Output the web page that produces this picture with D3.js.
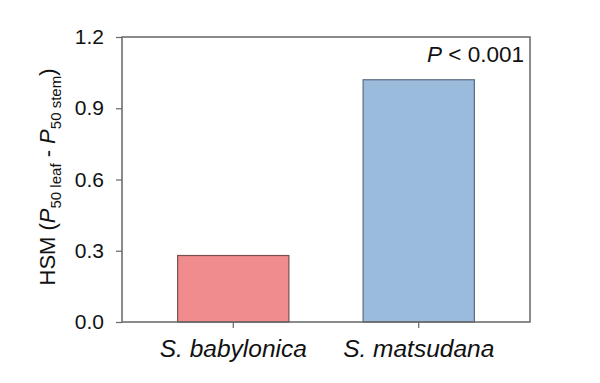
<!DOCTYPE html>
<html><head><meta charset="utf-8">
<script src="https://cdn.jsdelivr.net/npm/d3@7"></script>
<style>body{margin:0;background:#fff}svg{display:block}</style>
</head><body>
<svg id="c" width="600" height="383"></svg>
<script>
const categories = ["S. babylonica", "S. matsudana"];
const values = [0.28, 1.02];
const colors = ["#F08C8E", "#9BBBDC"];
const strokes = ["#7a4f50", "#5a6c80"];
const yTicks = [0.0, 0.3, 0.6, 0.9, 1.2];

const svg = d3.select("#c");
const m = {l:122, r:600-530, t:37, b:383-322};
const W = 600, H = 383;
const x = d3.scaleBand().domain(categories).range([m.l, W-m.r]).paddingInner(0.4).paddingOuter(0.3);
const y = d3.scaleLinear().domain([0, 1.2]).range([H-m.b, m.t]);
const axisColor = "#666";
const font = "Liberation Sans, Arial, sans-serif";

// bars
svg.selectAll("rect.bar").data(categories).join("rect")
  .attr("x", d => x(d)).attr("width", x.bandwidth())
  .attr("y", (d,i) => y(values[i])).attr("height", (d,i) => y(0) - y(values[i]))
  .attr("fill", (d,i) => colors[i]).attr("stroke", (d,i) => strokes[i]).attr("stroke-width", 1.2);

// frame
svg.append("rect").attr("x", m.l).attr("y", m.t).attr("width", W-m.r-m.l).attr("height", H-m.b-m.t)
  .attr("fill", "none").attr("stroke", axisColor).attr("stroke-width", 1.5);

// y axis
const ya = svg.append("g").attr("transform", `translate(${m.l},0)`)
  .call(d3.axisLeft(y).tickValues(yTicks).tickFormat(d3.format(".1f")).tickSize(6).tickPadding(12));
ya.select(".domain").remove();
ya.selectAll("line").attr("stroke", axisColor).attr("stroke-width", 1.2);
ya.selectAll("text").attr("font-family", font).attr("font-size", 21).attr("fill", "#111");

// x axis
const xa = svg.append("g").attr("transform", `translate(0,${H-m.b})`)
  .call(d3.axisBottom(x).tickSize(6).tickPadding(12));
xa.select(".domain").remove();
xa.selectAll("line").attr("stroke", axisColor).attr("stroke-width", 1.2);
xa.selectAll("text").attr("font-family", font).attr("font-size", 24.5).attr("font-style", "italic").attr("fill", "#111");

// y label
const yl = svg.append("text").attr("transform", `translate(55,177) rotate(-90)`)
  .attr("text-anchor", "middle").attr("font-family", font).attr("font-size", 22).attr("fill", "#111");
yl.append("tspan").text("HSM (");
yl.append("tspan").attr("font-style", "italic").text("P");
yl.append("tspan").attr("font-size", 15).attr("dy", 6).text("50 leaf");
yl.append("tspan").attr("dy", -6).text(" - ");
yl.append("tspan").attr("font-style", "italic").text("P");
yl.append("tspan").attr("font-size", 15).attr("dy", 6).text("50 stem");
yl.append("tspan").attr("dy", -6).text(")");

// P annotation
const p = svg.append("text").attr("x", 524).attr("y", 62).attr("text-anchor", "end")
  .attr("font-family", font).attr("font-size", 22.5).attr("fill", "#111");
p.append("tspan").attr("font-style", "italic").text("P");
p.append("tspan").text(" < 0.001");
</script>
</body></html>
